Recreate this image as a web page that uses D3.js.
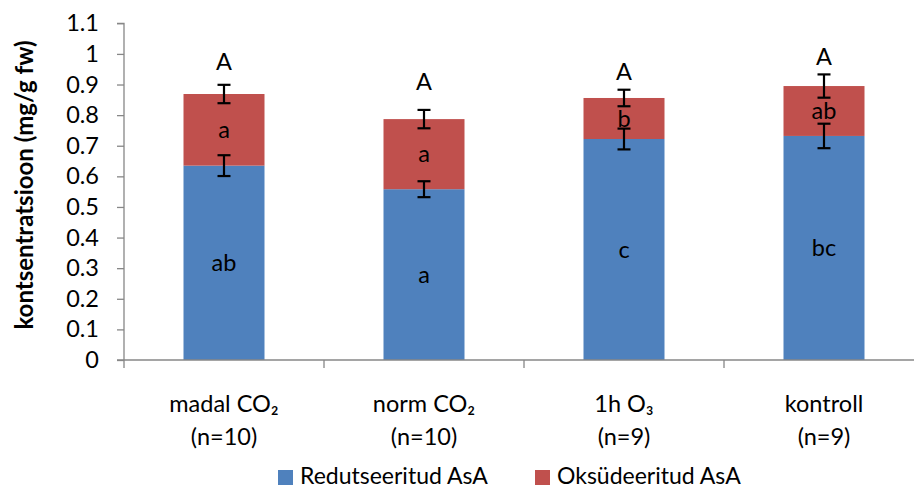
<!DOCTYPE html>
<html>
<head>
<meta charset="utf-8">
<script src="https://cdn.jsdelivr.net/npm/d3@7.9.0/dist/d3.min.js"></script>
<style>
  body { margin: 0; background: #fff; }
  svg { font-family: Lato, "Open Sans", sans-serif; }
</style>
</head>
<body>
<svg id="chart" width="914" height="489"></svg>
<script>
// chart data
const categories = ['madal CO₂', 'norm CO₂', '1h O₃', 'kontroll'];
const sampleSizes = ['(n=10)', '(n=10)', '(n=9)', '(n=9)'];
const seriesNames = ['Redutseeritud AsA', 'Oksüdeeritud AsA'];
const reduced = [0.635, 0.558, 0.722, 0.732];
const oxidized = [0.234, 0.229, 0.134, 0.163];
const reducedErr = [0.034, 0.026, 0.034, 0.040];
const totalErr = [0.030, 0.030, 0.027, 0.038];
const reducedLetters = ['ab', 'a', 'c', 'bc'];
const oxidizedLetters = ['a', 'a', 'b', 'ab'];
const totalLetters = ['A', 'A', 'A', 'A'];
const totalLetterPos = [0.975, 0.91, 0.94, 0.99];
const yTicks = [0, 0.1, 0.2, 0.3, 0.4, 0.5, 0.6, 0.7, 0.8, 0.9, 1, 1.1];

const colors = ['#4F81BD', '#C0504D'];
const axisColor = '#878787';
const fontSize = 23.5;

const svg = d3.select('#chart');

const plotLeft = 124, plotTop = 23.3, plotBottom = 360;

let x = d3.scaleBand()
    .domain(categories)
    .range([plotLeft, plotLeft + 800])
    .paddingInner(0.595)
    .paddingOuter(0.2975);

let y = d3.scaleLinear().domain([0, 1.1]).range([plotBottom, plotTop]);

// stacked data
let rows = categories.map((c, i) => ({ cat: c, reduced: reduced[i], oxidized: oxidized[i] }));
let stack = d3.stack().keys(['reduced', 'oxidized'])(rows);

svg.selectAll('g.series')
    .data(stack)
    .enter()
    .append('g')
    .attr('fill', (d, i) => colors[i])
    .selectAll('rect')
    .data(d => d)
    .enter()
    .append('rect')
    .attr('x', d => x(d.data.cat))
    .attr('width', x.bandwidth())
    .attr('y', d => y(d[1]))
    .attr('height', d => y(d[0]) - y(d[1]));

// y axis
let yAxis = d3.axisLeft(y)
    .tickValues(yTicks)
    .tickFormat(d => String(d))
    .tickSize(7)
    .tickPadding(18);

let gy = svg.append('g')
    .attr('transform', `translate(${plotLeft},0)`)
    .call(yAxis);
gy.select('.domain').attr('stroke', axisColor).attr('stroke-width', 1.3)
    .attr('d', `M-7,${plotTop}H0V${plotBottom}`);
gy.selectAll('.tick line').attr('stroke', axisColor).attr('stroke-width', 1.3);
gy.selectAll('.tick text')
    .attr('fill', '#000')
    .style('font-size', fontSize + 'px')
    .style('font-family', 'Lato, sans-serif');

// x axis
let ticksX = [0, 1, 2, 3, 4].map(i => plotLeft + i * x.step());
svg.append('line')
    .attr('x1', plotLeft - 7).attr('x2', plotLeft + 800)
    .attr('y1', plotBottom).attr('y2', plotBottom)
    .attr('stroke', axisColor).attr('stroke-width', 1.3);
svg.selectAll('line.xtick')
    .data(ticksX)
    .enter()
    .append('line')
    .attr('class', 'xtick')
    .attr('x1', d => d).attr('x2', d => d)
    .attr('y1', plotBottom).attr('y2', plotBottom + 8)
    .attr('stroke', axisColor).attr('stroke-width', 1.3);

let cx = c => x(c) + x.bandwidth() / 2;

svg.selectAll('text.cat1')
    .data(categories)
    .enter()
    .append('text')
    .attr('x', d => cx(d))
    .attr('y', 404)
    .attr('dy', '0.35em')
    .attr('text-anchor', 'middle')
    .attr('font-size', fontSize)
    .text(d => d);

svg.selectAll('text.cat2')
    .data(sampleSizes)
    .enter()
    .append('text')
    .attr('x', (d, i) => cx(categories[i]))
    .attr('y', 437)
    .attr('dy', '0.35em')
    .attr('text-anchor', 'middle')
    .attr('font-size', fontSize)
    .text(d => d);

// error bars
function drawErr(vals, errs) {
    let g = svg.append('g').attr('stroke', '#000').attr('stroke-width', 2.2);
    categories.forEach((c, i) => {
        let xc = cx(c);
        let hi = y(vals[i] + errs[i]), lo = y(vals[i] - errs[i]);
        g.append('line').attr('x1', xc).attr('x2', xc).attr('y1', hi).attr('y2', lo);
        g.append('line').attr('x1', xc - 6.5).attr('x2', xc + 6.5).attr('y1', hi).attr('y2', hi);
        g.append('line').attr('x1', xc - 6.5).attr('x2', xc + 6.5).attr('y1', lo).attr('y2', lo);
    });
}

// letters
function drawLetters(letters, pos) {
    svg.append('g').selectAll('text')
        .data(letters)
        .enter()
        .append('text')
        .attr('x', (d, i) => cx(categories[i]))
        .attr('y', (d, i) => y(pos[i]))
        .attr('dy', '0.35em')
        .attr('text-anchor', 'middle')
        .attr('font-size', fontSize)
        .text(d => d);
}
drawLetters(reducedLetters, reduced.map(v => v / 2));
drawLetters(oxidizedLetters, reduced.map((v, i) => v + oxidized[i] / 2));
drawLetters(totalLetters, totalLetterPos);

drawErr(reduced, reducedErr);
drawErr(reduced.map((v, i) => v + oxidized[i]), totalErr);

// y title
svg.append('text')
    .attr('transform', 'translate(33,185) rotate(-90)')
    .attr('text-anchor', 'middle')
    .attr('font-size', 24)
    .attr('font-weight', 'bold')
    .text('kontsentratsioon (mg/g fw)');

// legend
let legendX = [278, 535];
let lg = svg.append('g').selectAll('g')
    .data(seriesNames)
    .enter()
    .append('g')
    .attr('transform', (d, i) => `translate(${legendX[i]},470)`);
lg.append('rect').attr('width', 15).attr('height', 15).attr('fill', (d, i) => colors[i]);
lg.append('text')
    .attr('x', 22).attr('y', 14)
    .attr('font-size', 23)
    .text(d => d);
</script>
</body>
</html>
